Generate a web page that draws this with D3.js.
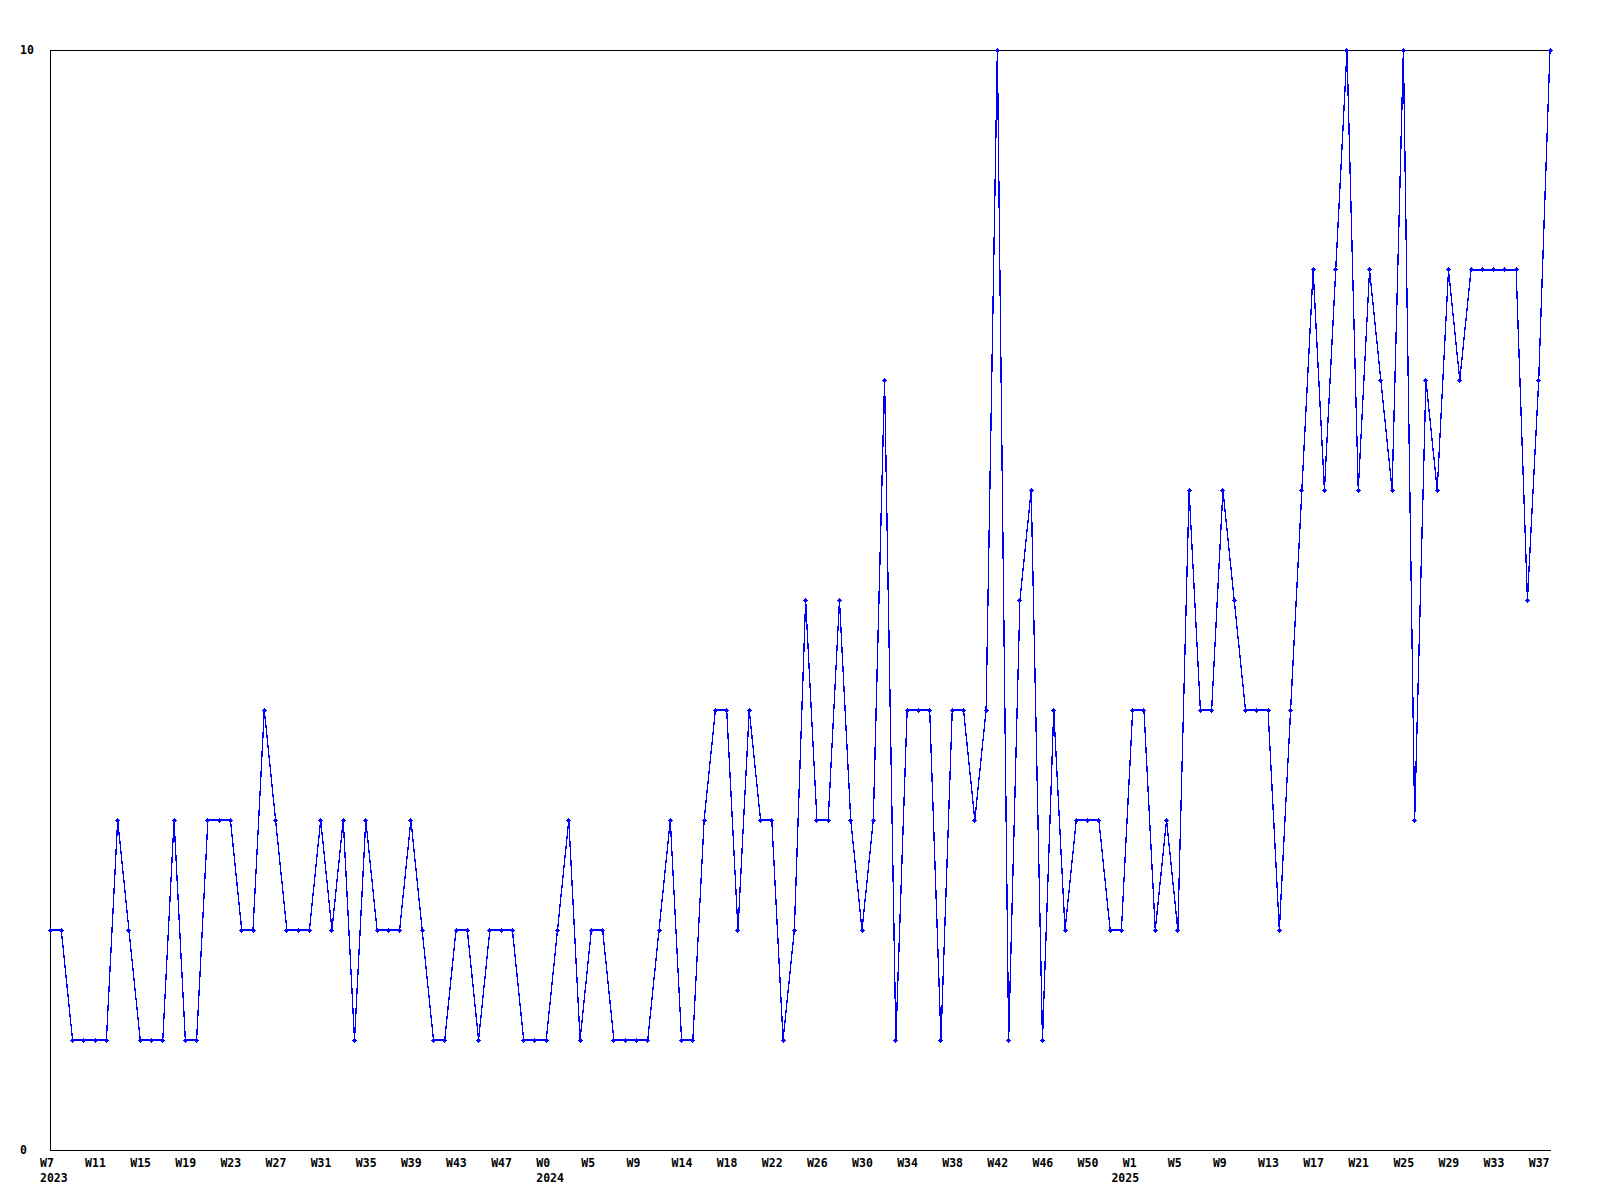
<!DOCTYPE html>
<html>
<head>
<meta charset="utf-8">
<script src="https://cdn.jsdelivr.net/npm/d3@7"></script>
<style>
  html, body { margin: 0; padding: 0; background: #fff; }
  svg { display: block; }
  text { font-family: "DejaVu Sans Mono", "Liberation Mono", monospace; font-weight: bold; font-size: 11.5px; fill: #000; }
</style>
</head>
<body>
<svg id="chart" width="1600" height="1200"></svg>
<script>
// Weekly values, 2023 W7 .. 2025 W38
const values = [
  2,2,1,1,1,1,3,2,1,1, 1,3,1,1,3,3,3,2,2,4, 3,2,2,2,3,2,3,1,3,2, 2,2,3,2,1,1,2,2,1,2,
  2,2,1,1,1,2,3,1,2,2, 1,1,1,1,2,3,1,1,3,4, 4,2,4,3,3,1,2,5,3,3, 5,3,2,3,7,1,4,4,4,1, 4,4,3,4,
  10,1,5,6,1,4,2,3,3,3, 2,2,4,4,2,3,2,6,4,4, 6,5,4,4,4,2,
  4,6,8,6,8,10,6,8,7,6, 10,3,7,6,8,7,8,8,8,8, 8,5,7,10
];
// Week tick labels, one every 4th point
const weekLabels = ["W7","W11","W15","W19","W23","W27","W31","W35","W39","W43","W47",
  "W0","W5","W9","W14","W18","W22","W26","W30","W34","W38","W42","W46","W50",
  "W1","W5","W9","W13","W17","W21","W25","W29","W33","W37"];
const weekStep = 4;
const yearLabels = ["2023","2024","2025"];
const yearIndex = [0, 44, 95];
const yTicks = [0, 10];

const svg = d3.select("#chart");
const M = { left: 50, right: 1550, top: 50, bottom: 1150 };

const x = d3.scaleLinear().domain([0, values.length - 1]).range([M.left, M.right]);
const y = d3.scaleLinear().domain([0, 10]).range([M.bottom, M.top]);

// Frame: left, bottom, top
const frame = svg.append("g").attr("shape-rendering", "crispEdges").attr("stroke", "#000").attr("stroke-width", 1);
frame.append("line").attr("x1", M.left + 0.5).attr("x2", M.left + 0.5).attr("y1", M.top).attr("y2", M.bottom);
frame.append("line").attr("x1", M.left).attr("x2", M.right + 1).attr("y1", M.bottom + 0.5).attr("y2", M.bottom + 0.5);
frame.append("line").attr("x1", M.left).attr("x2", M.right + 1).attr("y1", M.top + 0.5).attr("y2", M.top + 0.5);

// X axis (week labels)
const xTickVals = weekLabels.map((_, i) => i * weekStep);
const xAxis = d3.axisBottom(x).tickValues(xTickVals)
  .tickFormat((d, i) => weekLabels[i]).tickSize(0).tickSizeOuter(0).tickPadding(0);
const gx = svg.append("g").attr("transform", `translate(0,${M.bottom})`).call(xAxis);
gx.select(".domain").remove();
gx.attr("font-family", null).attr("font-size", null);
gx.selectAll("text").attr("text-anchor", "start").attr("dx", -10.5).attr("dy", 0).attr("y", 17);

// Year labels
const yearAxis = d3.axisBottom(x).tickValues(yearIndex)
  .tickFormat((d, i) => yearLabels[i]).tickSize(0).tickSizeOuter(0).tickPadding(0);
const gyear = svg.append("g").attr("transform", `translate(0,${M.bottom})`).call(yearAxis);
gyear.select(".domain").remove();
gyear.attr("font-family", null).attr("font-size", null);
gyear.selectAll("text").attr("text-anchor", "start").attr("dx", -10.5).attr("dy", 0).attr("y", 32);

// Y axis labels
const yAxis = d3.axisLeft(y).tickValues(yTicks).tickFormat(d3.format("d")).tickSize(0).tickSizeOuter(0).tickPadding(0);
const gy = svg.append("g").call(yAxis);
gy.select(".domain").remove();
gy.attr("font-family", null).attr("font-size", null);
gy.selectAll("text").attr("text-anchor", "start").attr("x", 20).attr("dy", "0.32em");

// Line
const line = d3.line().x((d, i) => x(i)).y(d => y(d));
svg.append("path").datum(values)
  .attr("d", line)
  .attr("fill", "none")
  .attr("stroke", "#0000ff")
  .attr("stroke-width", 1.3)
  .attr("shape-rendering", "crispEdges");

// Markers: small plus with a 3x3 core
const markerPath = "M-2.5,-0.5h5v1h-5z M-0.5,-2.5h1v5h-1z M-1.5,-1.5h3v3h-3z";
svg.append("g").selectAll("path").data(values).join("path")
  .attr("transform", (d, i) => `translate(${Math.floor(x(i)) + 0.5},${Math.floor(y(d)) + 0.5})`)
  .attr("d", markerPath)
  .attr("fill", "#0000ff")
  .attr("shape-rendering", "crispEdges");
</script>
</body>
</html>
